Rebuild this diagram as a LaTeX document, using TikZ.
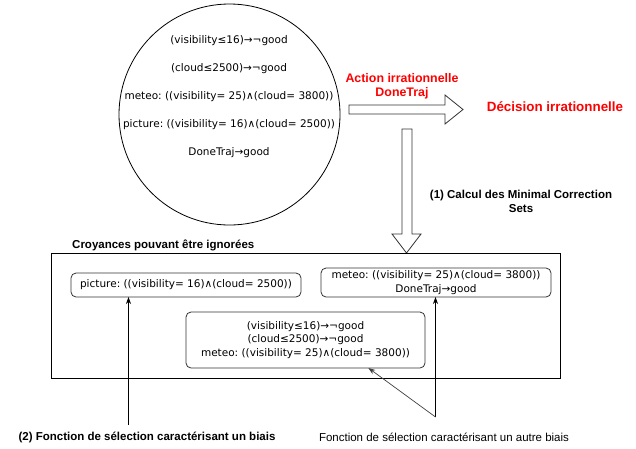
\documentclass[tikz,border=0pt]{standalone}
\usepackage{fontspec}
\setmainfont{Liberation Sans}
\newfontfamily\dejavu{DejaVu Sans}
\usepackage{tikz}
\usetikzlibrary{positioning}
\usetikzlibrary{arrows.meta}
\frenchspacing

\begin{document}
\begin{tikzpicture}[x=1pt, y=-1pt,
    belief/.style={font=\dejavu\fontsize{10.5}{13.5}\selectfont, align=center, inner sep=0pt},
    subset/.style={draw=black!80, line width=0.8pt, rounded corners=5pt, font=\dejavu\fontsize{10.5}{13.5}\selectfont, align=center, inner sep=0pt, outer sep=0pt},
    caption/.style={font=\fontsize{11.5}{13.5}\selectfont, align=center, inner sep=0pt},
    boldcap/.style={caption, font=\bfseries\fontsize{11.5}{13.5}\selectfont},
    redcap/.style={font=\bfseries\fontsize{12.4}{14}\selectfont, text=red, align=center, inner sep=0pt},
    blockarrow/.style={draw=black!80, fill=white, line width=0.8pt},
    link/.style={-{Stealth[length=7pt, width=5pt]}, line width=0.7pt}
]
\useasboundingbox (0,0) rectangle (636,448);

% Belief base
\node[draw, circle, line width=0.8pt, minimum size=221pt, inner sep=0pt, outer sep=0pt] (base) at (229.5,114.5) {};
\foreach \txt [count=\i] in {{(visibility≤16)→¬good}, {(cloud≤2500)→¬good}, {meteo: ((visibility= 25)∧(cloud= 3800))}, {picture: ((visibility= 16)∧(cloud= 2500))}, {DoneTraj→good}}
   \node[belief] (b\i) at (229,13+28*\i) {\txt};

% Irrational action
\draw[blockarrow] (349,105) -- (445,105) -- (445,95) -- (463,109.5) -- (445,124) -- (445,114) -- (349,114) -- cycle;
\node[redcap] (action) at (402,86) {Action irrationnelle\\DoneTraj};
\node[redcap, font=\bfseries\fontsize{13.4}{15}\selectfont] (decision) at (555,107) {Décision irrationnelle};

% Minimal Correction Sets
\draw[blockarrow] (402,129) -- (412,129) -- (412,234) -- (421,234) -- (406.5,253) -- (392,234) -- (402,234) -- cycle;
\node[boldcap] (mcs) at (521,201.5) {(1) Calcul des Minimal Correction\\Sets};

% Beliefs that can be ignored
\node[draw, line width=0.8pt, minimum width=509pt, minimum height=125pt, inner sep=0pt, outer sep=0pt] (ignored) at (305.5,315.5) {};
\node[boldcap, anchor=west] (title) at (72,245) {Croyances pouvant être ignorées};
\node[subset, minimum width=230pt, minimum height=24pt] (picture) at (186,285) {picture: ((visibility= 16)∧(cloud= 2500))};
\node[subset, minimum width=230pt, minimum height=29pt] (meteo) at (436,282.5) {meteo: ((visibility= 25)∧(cloud= 3800))\\DoneTraj→good};
\node[subset, minimum width=239pt, minimum height=56pt] (rest) at (305.5,340) {(visibility≤16)→¬good\\(cloud≤2500)→¬good\\meteo: ((visibility= 25)∧(cloud= 3800))};

% Selection functions
\coordinate (sel1) at (128.5,425);
\coordinate (sel2) at (435.5,417);
\draw[link] (sel1) -- (sel1 |- picture.south);
\draw[link] (sel2) -- (sel2 |- meteo.south);
\draw[link, draw=black!75] (sel2) -- (rest.-24);
\node[boldcap] (bias1) at (147,437) {(2) Fonction de sélection caractérisant un biais};
\node[caption] (bias2) at (444,437) {Fonction de sélection caractérisant un autre biais};

\end{tikzpicture}
\end{document}
